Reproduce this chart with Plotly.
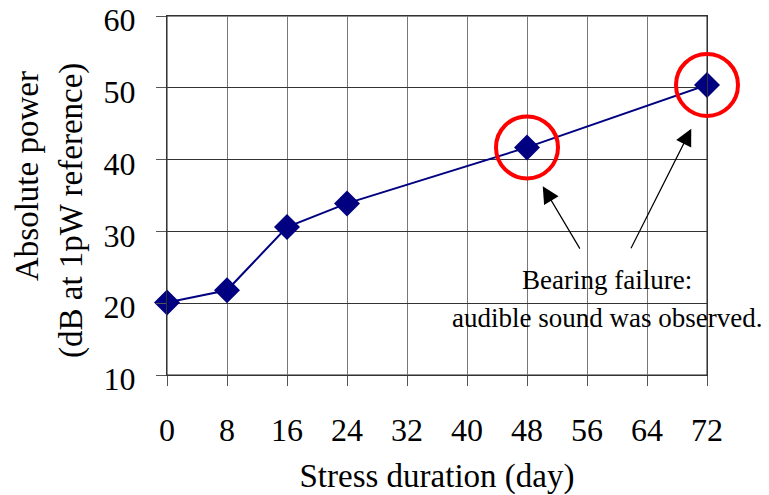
import plotly.graph_objects as go

# Data
days = [0, 8, 16, 24, 48, 72]
power_db = [20.1, 21.8, 30.6, 33.9, 41.7, 50.4]
x_ticks = [0, 8, 16, 24, 32, 40, 48, 56, 64, 72]
y_ticks = [10, 20, 30, 40, 50, 60]
failure_days = [48, 72]
failure_power = [41.7, 50.4]
note_lines = ["Bearing failure:", "audible sound was observed."]

X_RANGE = [0, 72]
Y_RANGE = [10, 60]

FONT = "Liberation Serif, Times New Roman, serif"
NAVY = "#000080"

L, R, T, B = 167, 62, 16, 120
W, H = 769, 495
W_plot = W - L - R
H_plot = H - T - B

def px_to_paper(px, py):
    return (px - L) / W_plot, (H - B - py) / H_plot

def data_to_paper(x, y):
    return ((x - X_RANGE[0]) / (X_RANGE[1] - X_RANGE[0]),
            (y - Y_RANGE[0]) / (Y_RANGE[1] - Y_RANGE[0]))

fig = go.Figure()
fig.add_trace(go.Scatter(
    x=days, y=power_db, mode="lines+markers",
    line=dict(color=NAVY, width=2),
    marker=dict(symbol="diamond", size=20, color=NAVY),
    cliponaxis=False, showlegend=False,
))

# Plot border
fig.add_shape(type="rect", xref="paper", yref="paper", x0=0, x1=1, y0=0, y1=1,
              line=dict(color="#222222", width=1), layer="below")

# Red circles around failure points (paper refs so they are not clipped)
for fx, fy in zip(failure_days, failure_power):
    xp, yp = data_to_paper(fx, fy)
    fig.add_shape(type="circle", xref="paper", yref="paper",
                  xsizemode="pixel", ysizemode="pixel",
                  xanchor=xp, yanchor=yp,
                  x0=-31, x1=31, y0=-31, y1=31,
                  line=dict(color="#ff0000", width=4))

# Arrows pointing to the circles (head just below each circle)
arrow_heads = [(50.1, 36.3, 38, 64), (69.9, 44.3, -61, 121)]
for hx, hy, ax, ay in arrow_heads:
    fig.add_annotation(x=hx, y=hy, xref="x", yref="y", text="",
                       showarrow=True, ax=ax, ay=ay,
                       arrowhead=2, arrowsize=2.8, arrowwidth=1.2,
                       arrowcolor="black", standoff=0)

# Note text
fig.add_annotation(x=58.7, y=23.2, xref="x", yref="y", text=note_lines[0],
                   showarrow=False, font=dict(family=FONT, size=27, color="black"))
fig.add_annotation(x=58.7, y=17.9, xref="x", yref="y", text=note_lines[1],
                   showarrow=False, font=dict(family=FONT, size=27, color="black"))

# Y-axis title lines
for text, px, py in [("Absolute power", 27, 176), ("(dB at 1pW reference)", 71, 211)]:
    xp, yp = px_to_paper(px, py)
    fig.add_annotation(x=xp, y=yp, xref="paper", yref="paper", text=text,
                       showarrow=False, textangle=-90, xanchor="center", yanchor="middle",
                       font=dict(family=FONT, size=33, color="black"))

fig.update_layout(
    width=W, height=H,
    margin=dict(l=L, r=R, t=T, b=B, autoexpand=False),
    paper_bgcolor="white", plot_bgcolor="white",
    font=dict(family=FONT, size=32, color="black"),
    xaxis=dict(
        range=X_RANGE, tickvals=x_ticks, ticktext=[str(v) for v in x_ticks],
        showgrid=True, gridcolor="#777777", gridwidth=1,
        showline=True, linecolor="#333333", linewidth=1, mirror=True,
        ticks="outside", ticklen=10, tickcolor="#555555",
        ticklabelstandoff=17, ticklabeloverflow="allow", automargin=False,
        title=dict(text="Stress duration (day)", font=dict(size=33), standoff=17),
        zeroline=False,
    ),
    yaxis=dict(
        range=Y_RANGE, tickvals=y_ticks,
        showgrid=True, gridcolor="#333333", gridwidth=1,
        showline=True, linecolor="#333333", linewidth=1, mirror=True,
        ticks="outside", ticklen=10, tickcolor="#555555",
        ticklabelstandoff=14, ticklabelshift=4,
        ticklabeloverflow="allow", automargin=False,
        zeroline=False,
    ),
)

fig.write_html("out.html")
